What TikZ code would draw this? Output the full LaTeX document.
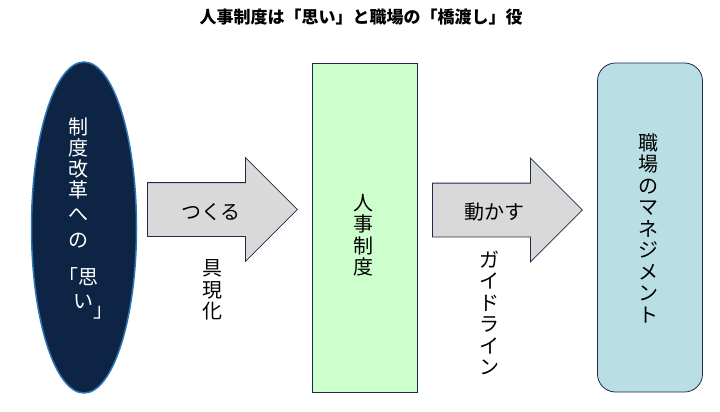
\documentclass[tikz,border=0pt]{standalone}
\usepackage{fontspec}
\setmainfont{Noto Sans CJK JP}
\usetikzlibrary{shapes.geometric, shapes.arrows}

\definecolor{wishnavy}{RGB}{13,36,68}
\definecolor{wishrim}{RGB}{46,117,182}
\definecolor{lineink}{RGB}{30,42,72}
\definecolor{arrowgray}{RGB}{217,217,217}
\definecolor{systemgreen}{RGB}{204,255,204}
\definecolor{fieldteal}{RGB}{185,222,227}

\begin{document}
\begin{tikzpicture}[
    x=1pt, y=-1pt,
    every node/.style={inner sep=0pt},
    vtext/.style={align=center,font=\fontsize{20}{21.5}\selectfont},
    htext/.style={font=\fontsize{20}{22}\selectfont},
    wish/.style={ellipse,fill=wishnavy,draw=wishrim,line width=1.5pt,minimum width=105,minimum height=331},
    panel/.style={rectangle,draw=lineink,line width=0.8pt,minimum width=105,minimum height=329},
    blockarrow/.style={single arrow,single arrow head extend=25,single arrow tip angle=90,
        fill=arrowgray,draw=lineink,line width=0.8pt,inner xsep=0pt,inner ysep=26.5,minimum height=150,anchor=tail}
]
\useasboundingbox (0,0) rectangle (720,412);
\node[font=\fontsize{17}{19}\selectfont\bfseries] (title) at (361,17) {人事制度は「思い」と職場の「橋渡し」役};
% three columns
\node[wish] (wish) at (84,227.5) {};
\node[vtext,text=white,font=\fontsize{20}{21}\selectfont,anchor=north] (wishtext) at (78,118)
    {制\\度\\改\\革\\[3pt]へ\\[5pt]の\\[16pt]\hspace*{1em}\llap{「}思\\[3pt]\hspace*{0.5em}い\rlap{\raisebox{-0.45em}{」}}};
\node[panel,fill=systemgreen] (system) at (364.5,227.5) {};
\node[vtext] (systemtext) at (363,235) {人\\事\\制\\度};
\node[panel,fill=fieldteal,rounded corners=18pt] (field) at (650,227.5) {};
\node[vtext] (fieldtext) at (648,228) {職\\場\\の\\マ\\ネ\\ジ\\メ\\ン\\ト};
% block arrows
\node[blockarrow] (make) at (147,209.5) {};
\node[htext] (maketext) at (211,212) {つくる};
\node[vtext] (embody) at (212,290) {具\\現\\化};
\node[blockarrow] (move) at (432,210) {};
\node[htext] (movetext) at (494,212) {動かす};
\node[vtext] (guide) at (489,313) {ガ\\イ\\ド\\ラ\\イ\\ン};
\end{tikzpicture}
\end{document}
